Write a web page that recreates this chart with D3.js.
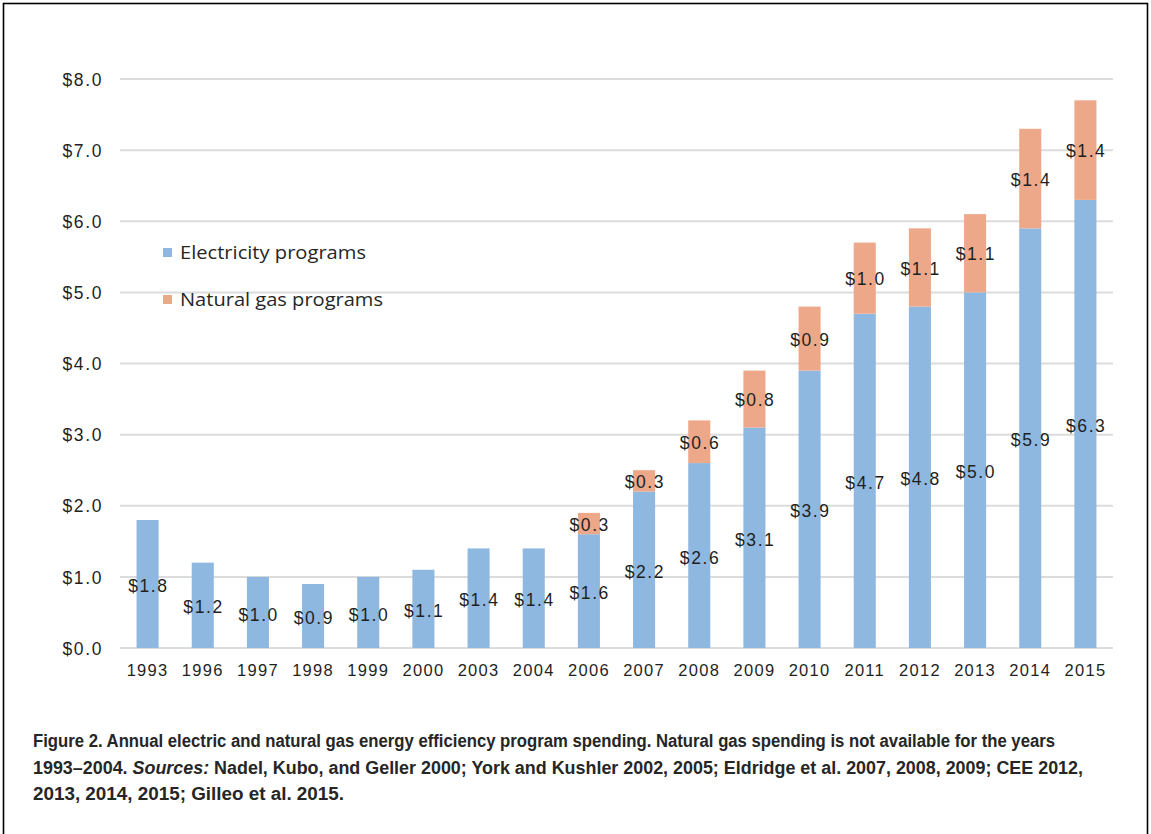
<!DOCTYPE html>
<html>
<head>
<meta charset="utf-8">
<script src="https://cdn.jsdelivr.net/npm/d3@7"></script>
<style>
  html, body { margin: 0; padding: 0; background: #fff; }
  svg { display: block; }
</style>
</head>
<body>
<svg id="chart" width="1151" height="834"></svg>
<script>
const years = ["1993","1996","1997","1998","1999","2000","2003","2004","2006","2007","2008","2009","2010","2011","2012","2013","2014","2015"];
const electricity = [1.8,1.2,1.0,0.9,1.0,1.1,1.4,1.4,1.6,2.2,2.6,3.1,3.9,4.7,4.8,5.0,5.9,6.3];
const naturalGas = [null,null,null,null,null,null,null,null,0.3,0.3,0.6,0.8,0.9,1.0,1.1,1.1,1.4,1.4];
const yTicks = [0,1,2,3,4,5,6,7,8];
const seriesNames = ["Electricity programs","Natural gas programs"];
const captionLines = [
  "Figure 2. Annual electric and natural gas energy efficiency program spending. Natural gas spending is not available for the years",
  "1993\u20132004. |Sources:| Nadel, Kubo, and Geller 2000; York and Kushler 2002, 2005; Eldridge et al. 2007, 2008, 2009; CEE 2012,",
  "2013, 2014, 2015; Gilleo et al. 2015."
];

const colors = { elec: "#8fb8e0", gas: "#eda88a" };
const svg = d3.select("#chart");
const baseFont = "Liberation Sans, Arial, sans-serif";

// frame
svg.append("rect").attr("x",3.5).attr("y",3.5).attr("width",1144).attr("height",860)
  .attr("fill","none").attr("stroke","#000").attr("stroke-width",1.6);

const x = d3.scaleBand().domain(years).range([120,1113]).paddingInner(0.6).paddingOuter(0.3);
const y = d3.scaleLinear().domain([0,8]).range([648,79]);

// gridlines
svg.append("g").selectAll("line").data(yTicks).join("line")
  .attr("x1",120).attr("x2",1113)
  .attr("y1",d=>y(d)).attr("y2",d=>y(d))
  .attr("stroke","#dcdcdc").attr("stroke-width",2);

// y axis labels
const yAxis = d3.axisLeft(y).tickValues(yTicks).tickSize(0).tickPadding(0)
  .tickFormat(d => "$" + d3.format(".1f")(d));
const gy = svg.append("g").attr("transform","translate(103,0)").call(yAxis);
gy.select(".domain").remove();
gy.attr("font-size",null).attr("font-family",null);
gy.selectAll("text").style("font-family",baseFont)
  .style("font-size","17.5px").style("letter-spacing","1.6px").attr("fill","#1f1f1f").attr("dy","0.35em");

// x axis labels
const xAxis = d3.axisBottom(x).tickSize(0).tickPadding(0);
const gx = svg.append("g").attr("transform","translate(0,664)").call(xAxis);
gx.select(".domain").remove();
gx.attr("font-size",null).attr("font-family",null);
gx.selectAll("text").style("font-family",baseFont)
  .style("font-size","16.5px").style("letter-spacing","1.3px").attr("fill","#1f1f1f").attr("dy","0.71em");

// bars
const data = years.map((yr,i)=>({year:yr, e:electricity[i], g:naturalGas[i]}));
svg.append("g").selectAll("rect").data(data).join("rect")
  .attr("x",d=>x(d.year)).attr("width",x.bandwidth())
  .attr("y",d=>y(d.e)).attr("height",d=>y(0)-y(d.e))
  .attr("fill",colors.elec);
svg.append("g").selectAll("rect").data(data.filter(d=>d.g!=null)).join("rect")
  .attr("x",d=>x(d.year)).attr("width",x.bandwidth())
  .attr("y",d=>y(d.e+d.g)).attr("height",d=>y(d.e)-y(d.e+d.g))
  .attr("fill",colors.gas);

// data labels
function lbl(sel){
  sel.attr("text-anchor","middle").style("font-family",baseFont).style("font-size","17.5px")
    .style("letter-spacing","1.6px").attr("fill","#1f1f1f").attr("dy","0.35em");
}
svg.append("g").selectAll("text").data(data).join("text")
  .attr("x",d=>x(d.year)+x.bandwidth()/2+0.8)
  .attr("y",d=>(y(0)+y(d.e))/2+2)
  .call(lbl).text(d=>"$"+d3.format(".1f")(d.e));
svg.append("g").selectAll("text").data(data.filter(d=>d.g!=null)).join("text")
  .attr("x",d=>x(d.year)+x.bandwidth()/2+0.8)
  .attr("y",d=>(y(d.e)+y(d.e+d.g))/2+1)
  .call(lbl).text(d=>"$"+d3.format(".1f")(d.g));

// legend
const leg = svg.append("g");
const legW = [186, 203];
[colors.elec, colors.gas].forEach((c,i)=>{
  const ly = 253 + i*47;
  leg.append("rect").attr("x",163).attr("y",ly-5).attr("width",9).attr("height",9).attr("fill",c);
  leg.append("text").attr("x",180).attr("y",ly).attr("dy","0.35em")
    .style("font-family","Open Sans, Liberation Sans, sans-serif").style("font-size","18.5px")
    .attr("textLength",legW[i]).attr("lengthAdjust","spacingAndGlyphs")
    .attr("fill","#262626").text(seriesNames[i]);
});

// caption
const capWidths = [1022, 1050, 311];
captionLines.forEach((line,i)=>{
  const t = svg.append("text").attr("x",33).attr("y",747 + i*26.5)
    .style("font-family",baseFont).style("font-size","18px").style("font-weight","bold")
    .attr("fill","#262626")
    .attr("textLength",capWidths[i]).attr("lengthAdjust","spacingAndGlyphs");
  line.split("|").forEach((part,k)=>{
    t.append("tspan").attr("font-style", k===1 ? "italic" : "normal").text(part);
  });
});
</script>
</body>
</html>
